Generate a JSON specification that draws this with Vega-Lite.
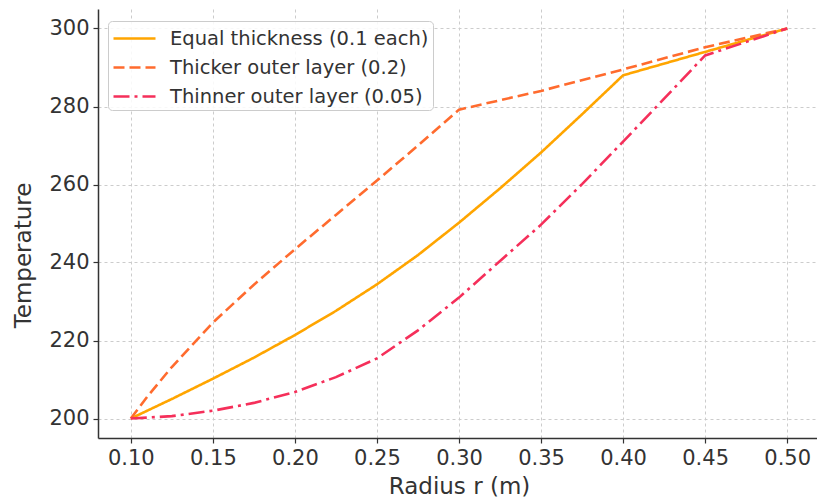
{
  "$schema": "https://vega.github.io/schema/vega-lite/v6.json",
  "autosize": "none",
  "width": 722,
  "height": 429,
  "padding": {"left": 98, "top": 9, "right": 0, "bottom": 61},
  "background": "white",
  "config": {
    "font": "DejaVu Sans",
    "view": {"stroke": null}
  },
  "data": {
    "values": [
      {"r": 0.1, "T": 200, "series": "Equal thickness (0.1 each)"},
      {"r": 0.125, "T": 205.0, "series": "Equal thickness (0.1 each)"},
      {"r": 0.15, "T": 210.2, "series": "Equal thickness (0.1 each)"},
      {"r": 0.175, "T": 215.6, "series": "Equal thickness (0.1 each)"},
      {"r": 0.2, "T": 221.4, "series": "Equal thickness (0.1 each)"},
      {"r": 0.225, "T": 227.6, "series": "Equal thickness (0.1 each)"},
      {"r": 0.25, "T": 234.4, "series": "Equal thickness (0.1 each)"},
      {"r": 0.275, "T": 241.9, "series": "Equal thickness (0.1 each)"},
      {"r": 0.3, "T": 250.2, "series": "Equal thickness (0.1 each)"},
      {"r": 0.325, "T": 259.0, "series": "Equal thickness (0.1 each)"},
      {"r": 0.35, "T": 268.2, "series": "Equal thickness (0.1 each)"},
      {"r": 0.375, "T": 278.0, "series": "Equal thickness (0.1 each)"},
      {"r": 0.4, "T": 288.0, "series": "Equal thickness (0.1 each)"},
      {"r": 0.45, "T": 294.0, "series": "Equal thickness (0.1 each)"},
      {"r": 0.5, "T": 300, "series": "Equal thickness (0.1 each)"},
      {"r": 0.1, "T": 200, "series": "Thicker outer layer (0.2)"},
      {"r": 0.11, "T": 205.6, "series": "Thicker outer layer (0.2)"},
      {"r": 0.125, "T": 213.2, "series": "Thicker outer layer (0.2)"},
      {"r": 0.15, "T": 224.6, "series": "Thicker outer layer (0.2)"},
      {"r": 0.175, "T": 234.3, "series": "Thicker outer layer (0.2)"},
      {"r": 0.2, "T": 243.4, "series": "Thicker outer layer (0.2)"},
      {"r": 0.225, "T": 252.2, "series": "Thicker outer layer (0.2)"},
      {"r": 0.25, "T": 261.0, "series": "Thicker outer layer (0.2)"},
      {"r": 0.275, "T": 270.0, "series": "Thicker outer layer (0.2)"},
      {"r": 0.3, "T": 279.2, "series": "Thicker outer layer (0.2)"},
      {"r": 0.35, "T": 284.0, "series": "Thicker outer layer (0.2)"},
      {"r": 0.4, "T": 289.5, "series": "Thicker outer layer (0.2)"},
      {"r": 0.45, "T": 295.2, "series": "Thicker outer layer (0.2)"},
      {"r": 0.5, "T": 300, "series": "Thicker outer layer (0.2)"},
      {"r": 0.1, "T": 200, "series": "Thinner outer layer (0.05)"},
      {"r": 0.125, "T": 200.6, "series": "Thinner outer layer (0.05)"},
      {"r": 0.15, "T": 202.0, "series": "Thinner outer layer (0.05)"},
      {"r": 0.175, "T": 204.0, "series": "Thinner outer layer (0.05)"},
      {"r": 0.2, "T": 206.8, "series": "Thinner outer layer (0.05)"},
      {"r": 0.225, "T": 210.6, "series": "Thinner outer layer (0.05)"},
      {"r": 0.25, "T": 215.4, "series": "Thinner outer layer (0.05)"},
      {"r": 0.275, "T": 222.6, "series": "Thinner outer layer (0.05)"},
      {"r": 0.3, "T": 231.0, "series": "Thinner outer layer (0.05)"},
      {"r": 0.325, "T": 240.4, "series": "Thinner outer layer (0.05)"},
      {"r": 0.35, "T": 249.7, "series": "Thinner outer layer (0.05)"},
      {"r": 0.375, "T": 260.1, "series": "Thinner outer layer (0.05)"},
      {"r": 0.4, "T": 271.0, "series": "Thinner outer layer (0.05)"},
      {"r": 0.425, "T": 282.0, "series": "Thinner outer layer (0.05)"},
      {"r": 0.45, "T": 293.1, "series": "Thinner outer layer (0.05)"},
      {"r": 0.5, "T": 300, "series": "Thinner outer layer (0.05)"}
    ]
  },
  "mark": {"type": "line", "strokeWidth": 2.6, "clip": true},
  "encoding": {
    "x": {
      "field": "r", "type": "quantitative",
      "scale": {"domain": [0.08, 0.52], "nice": false, "zero": false},
      "axis": {
        "title": "Radius r (m)",
        "values": [0.1, 0.15, 0.2, 0.25, 0.3, 0.35, 0.4, 0.45, 0.5],
        "format": ".2f",
        "labelFontSize": 21, "labelColor": "#333333", "labelPadding": 4,
        "titleFontSize": 23, "titleFontWeight": "normal", "titleColor": "#333333", "titlePadding": 7,
        "domainColor": "#333333", "domainWidth": 1.5,
        "tickColor": "#333333", "tickSize": 5, "tickWidth": 1.2,
        "grid": true, "gridColor": "#cccccc", "gridDash": [3, 3], "gridWidth": 1
      }
    },
    "y": {
      "field": "T", "type": "quantitative",
      "scale": {"domain": [195, 305], "nice": false, "zero": false},
      "axis": {
        "title": "Temperature",
        "values": [200, 220, 240, 260, 280, 300],
        "labelFontSize": 21, "labelColor": "#333333", "labelPadding": 4,
        "titleFontSize": 23, "titleFontWeight": "normal", "titleColor": "#333333",
        "titleX": -63, "titleY": 246,
        "domainColor": "#333333", "domainWidth": 1.5,
        "tickColor": "#333333", "tickSize": 5, "tickWidth": 1.2,
        "grid": true, "gridColor": "#cccccc", "gridDash": [3, 3], "gridWidth": 1
      }
    },
    "color": {
      "field": "series", "type": "nominal",
      "scale": {
        "domain": ["Equal thickness (0.1 each)", "Thicker outer layer (0.2)", "Thinner outer layer (0.05)"],
        "range": ["#FFA500", "#FF6B2E", "#F52F5A"]
      },
      "legend": {
        "title": null, "orient": "none", "legendX": 10, "legendY": 12,
        "symbolType": "M-1.75,0H1.75", "symbolSize": 576, "symbolOffset": 9, "symbolStrokeWidth": 2.6,
        "labelFontSize": 19.5, "labelColor": "#333333", "labelOffset": 22, "labelLimit": 400,
        "rowPadding": 6, "padding": 4,
        "strokeColor": "#cccccc", "fillColor": "rgba(255,255,255,0.85)", "cornerRadius": 4
      }
    },
    "strokeDash": {
      "field": "series", "type": "nominal",
      "scale": {
        "domain": ["Equal thickness (0.1 each)", "Thicker outer layer (0.2)", "Thinner outer layer (0.05)"],
        "range": [[1, 0], [11, 5], [16, 5, 3, 5]]
      },
      "legend": null
    }
  }
}
